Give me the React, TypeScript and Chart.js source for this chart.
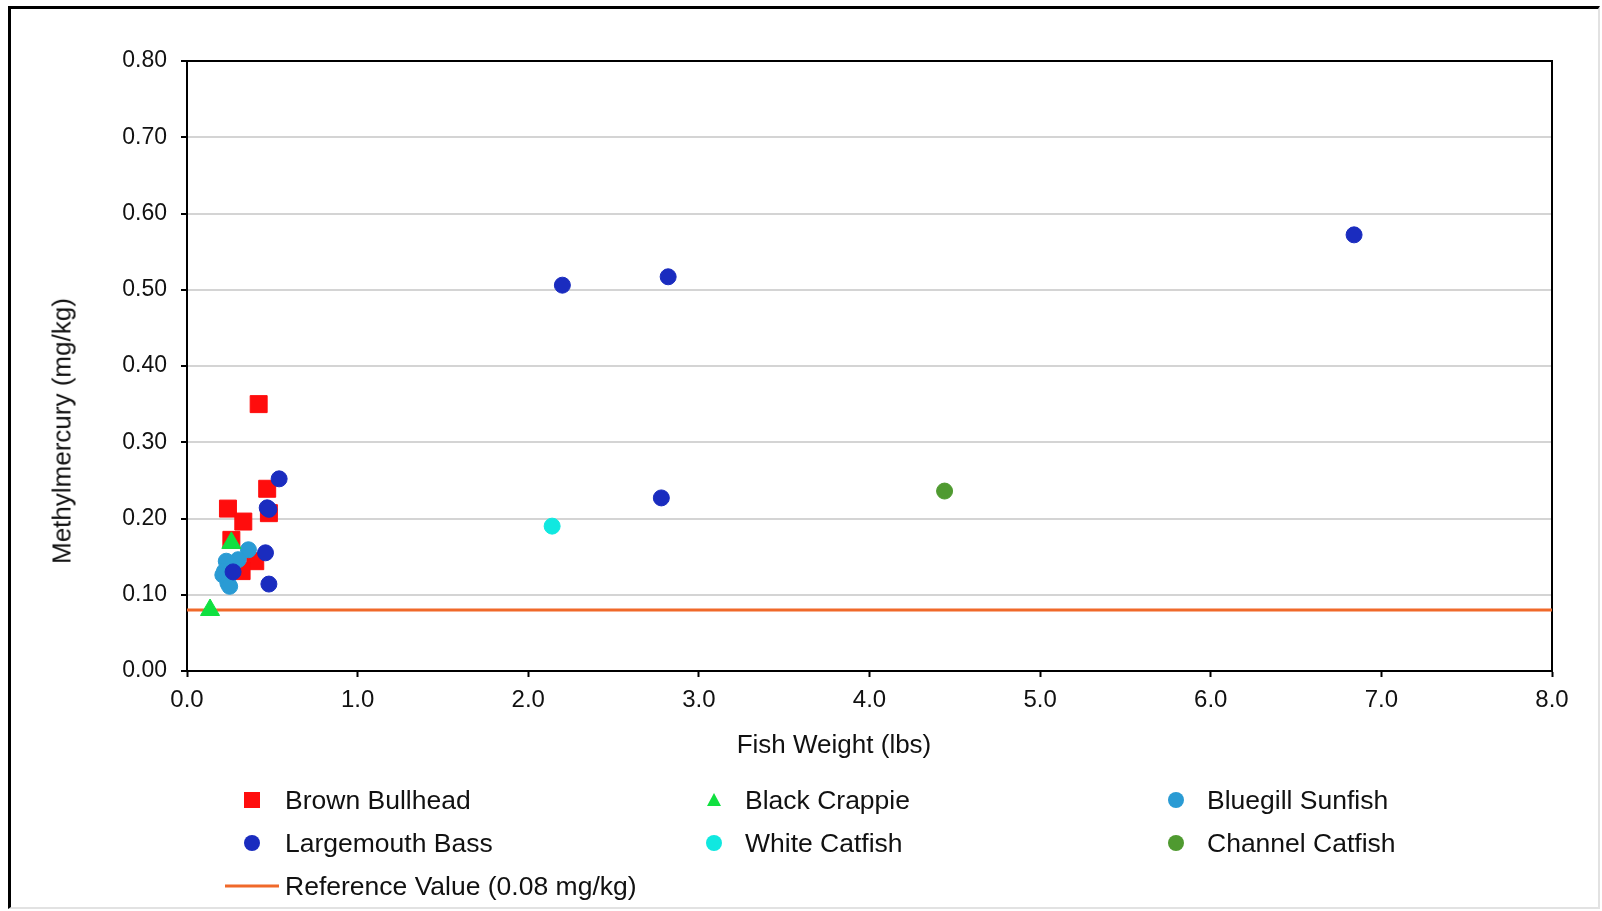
import React, { useEffect, useRef } from "react";
import { Chart, registerables } from "chart.js";

Chart.register(...registerables);

// ---------- data ----------
const brownBullheadX = [0.42, 0.47, 0.24, 0.33, 0.48, 0.26, 0.40, 0.32];
const brownBullheadY = [0.350, 0.239, 0.213, 0.196, 0.207, 0.172, 0.144, 0.131];

const largemouthX = [6.84, 2.20, 2.82, 2.78, 0.54, 0.47, 0.48, 0.46, 0.27, 0.48];
const largemouthY = [0.572, 0.506, 0.517, 0.227, 0.252, 0.214, 0.212, 0.155, 0.130, 0.114];

const blackCrappieX = [0.26, 0.135];
const blackCrappieY = [0.168, 0.080];

const bluegillX = [0.36, 0.23, 0.30, 0.22, 0.21, 0.24, 0.25];
const bluegillY = [0.159, 0.144, 0.146, 0.131, 0.126, 0.115, 0.111];

const whiteCatfishX = [2.14];
const whiteCatfishY = [0.190];

const channelCatfishX = [4.44];
const channelCatfishY = [0.236];

const referenceValue = 0.08;
const referenceX = [0, 8];

const xTicks = [0, 1, 2, 3, 4, 5, 6, 7, 8];
const yTicks = [0, 0.1, 0.2, 0.3, 0.4, 0.5, 0.6, 0.7, 0.8];

const xTitle = "Fish Weight (lbs)";
const yTitle = "Methylmercury (mg/kg)";

const legendNames = [
  "Brown Bullhead",
  "Black Crappie",
  "Bluegill Sunfish",
  "Largemouth Bass",
  "White Catfish",
  "Channel Catfish",
  "Reference Value (0.08 mg/kg)",
];

// ---------- styles ----------
const COLORS = {
  bullhead: "#ff0d0d",
  bass: "#1a2cbf",
  crappie: "#10e040",
  bluegill: "#2a9bd4",
  white: "#10e8e0",
  channel: "#4f9a30",
  ref: "#f0692a",
};

const FONT = "'Liberation Sans', Arial, sans-serif";

const pts = (xs: number[], ys: number[]) => xs.map((x, i) => ({ x, y: ys[i] }));

type LegendItem = { name: string; kind: "rect" | "circle" | "triangle" | "line"; color: string };
const legendItems: LegendItem[] = [
  { name: legendNames[0], kind: "rect", color: COLORS.bullhead },
  { name: legendNames[1], kind: "triangle", color: COLORS.crappie },
  { name: legendNames[2], kind: "circle", color: COLORS.bluegill },
  { name: legendNames[3], kind: "circle", color: COLORS.bass },
  { name: legendNames[4], kind: "circle", color: COLORS.white },
  { name: legendNames[5], kind: "circle", color: COLORS.channel },
  { name: legendNames[6], kind: "line", color: COLORS.ref },
];

const colMarkerX = [252, 714, 1176];
const colTextX = [285, 745, 1207];
const rowY = [800, 843, 886];

function Marker({ item }: { item: LegendItem }) {
  if (item.kind === "line") {
    return (
      <svg width="54" height="10" style={{ display: "block" }}>
        <line x1="0" y1="5" x2="54" y2="5" stroke={item.color} strokeWidth="3" />
      </svg>
    );
  }
  return (
    <svg width="22" height="22" style={{ display: "block" }}>
      {item.kind === "rect" && <rect x="3" y="3" width="16" height="16" fill={item.color} />}
      {item.kind === "circle" && <circle cx="11" cy="11" r="8" fill={item.color} />}
      {item.kind === "triangle" && <polygon points="11,4 18,17 4,17" fill={item.color} />}
    </svg>
  );
}

export default function App() {
  const ref = useRef<HTMLCanvasElement | null>(null);

  useEffect(() => {
    if (!ref.current) return;
    const borderPlugin = {
      id: "plotBorder",
      beforeDatasetsDraw(chart: any) {
        const { ctx, chartArea } = chart;
        ctx.save();
        ctx.strokeStyle = "#000";
        ctx.lineWidth = 2;
        ctx.strokeRect(chartArea.left, chartArea.top, chartArea.right - chartArea.left, chartArea.bottom - chartArea.top);
        ctx.restore();
      },
    };
    const chart = new Chart(ref.current, {
      type: "scatter",
      data: {
        datasets: [
          {
            label: legendNames[3],
            data: pts(largemouthX, largemouthY),
            pointStyle: "circle",
            pointRadius: 8,
            backgroundColor: COLORS.bass,
            borderColor: COLORS.bass,
            borderWidth: 1,
            order: 0,
          },
          {
            label: legendNames[1],
            data: pts(blackCrappieX, blackCrappieY),
            pointStyle: "triangle",
            pointRadius: 11,
            backgroundColor: COLORS.crappie,
            borderColor: COLORS.crappie,
            borderWidth: 1,
            order: 1,
          },
          {
            label: legendNames[2],
            data: pts(bluegillX, bluegillY),
            pointStyle: "circle",
            pointRadius: 8,
            backgroundColor: COLORS.bluegill,
            borderColor: COLORS.bluegill,
            borderWidth: 1,
            order: 2,
          },
          {
            label: legendNames[0],
            data: pts(brownBullheadX, brownBullheadY),
            pointStyle: "rect",
            pointRadius: 12,
            backgroundColor: COLORS.bullhead,
            borderColor: COLORS.bullhead,
            borderWidth: 1,
            order: 3,
          },
          {
            label: legendNames[4],
            data: pts(whiteCatfishX, whiteCatfishY),
            pointStyle: "circle",
            pointRadius: 8,
            backgroundColor: COLORS.white,
            borderColor: COLORS.white,
            borderWidth: 1,
            order: 4,
          },
          {
            label: legendNames[5],
            data: pts(channelCatfishX, channelCatfishY),
            pointStyle: "circle",
            pointRadius: 8,
            backgroundColor: COLORS.channel,
            borderColor: COLORS.channel,
            borderWidth: 1,
            order: 5,
          },
          {
            type: "line",
            label: legendNames[6],
            data: referenceX.map((x) => ({ x, y: referenceValue })),
            borderColor: COLORS.ref,
            borderWidth: 3,
            pointRadius: 0,
            fill: false,
            order: 10,
          } as any,
        ],
      },
      options: {
        responsive: false,
        animation: false,
        devicePixelRatio: 1,
        layout: { padding: { left: 0, top: 61, right: 50, bottom: 0 } },
        plugins: {
          legend: { display: false },
          tooltip: { enabled: false },
          title: { display: false },
        },
        scales: {
          x: {
            type: "linear",
            min: 0,
            max: 8,
            afterBuildTicks: (scale: any) => {
              scale.ticks = xTicks.map((v) => ({ value: v }));
            },
            afterFit: (scale: any) => {
              scale.height = 240;
            },
            ticks: {
              color: "#111",
              font: { family: FONT, size: 24 },
              padding: 9,
              callback: (v: any) => Number(v).toFixed(1),
              maxRotation: 0,
            },
            grid: {
              drawOnChartArea: false,
              drawTicks: true,
              tickLength: 6,
              tickColor: "#000",
              tickWidth: 2,
            },
            border: { color: "#000", width: 2 },
            title: { display: false },
          },
          y: {
            type: "linear",
            min: 0,
            max: 0.8,
            afterBuildTicks: (scale: any) => {
              scale.ticks = yTicks.map((v) => ({ value: v }));
            },
            afterFit: (scale: any) => {
              scale.width = 187;
            },
            ticks: {
              color: "#111",
              font: { family: FONT, size: 23 },
              padding: 14,
              callback: (v: any) => Number(v).toFixed(2),
            },
            grid: {
              color: "#d4d4d4",
              lineWidth: 2,
              drawTicks: true,
              tickLength: 6,
              tickColor: "#000",
              tickWidth: 2,
            },
            border: { color: "#000", width: 2 },
            title: { display: false },
          },
        },
      },
      plugins: [borderPlugin],
    } as any);
    return () => chart.destroy();
  }, []);

  return (
    <div
      style={{
        position: "fixed",
        left: 0,
        top: 0,
        width: 1602,
        height: 911,
        background: "#fff",
        overflow: "hidden",
        fontFamily: FONT,
        color: "#111",
      }}
    >
      <div
        style={{
          position: "absolute",
          left: 8,
          top: 6,
          width: 1587,
          height: 898,
          borderLeft: "3px solid #000",
          borderTop: "3px solid #000",
          borderRight: "2px solid #e2e2e2",
          borderBottom: "2px solid #e2e2e2",
        }}
      />
      <canvas ref={ref} width={1602} height={911} style={{ position: "absolute", left: 0, top: 0 }} />
      <div
        style={{
          position: "absolute",
          left: 834,
          top: 744,
          transform: "translate(-50%, -50%)",
          fontSize: 26,
          whiteSpace: "nowrap",
        }}
      >
        {xTitle}
      </div>
      <div
        style={{
          position: "absolute",
          left: 62,
          top: 431,
          transform: "translate(-50%, -50%) rotate(-90deg)",
          fontSize: 26,
          whiteSpace: "nowrap",
        }}
      >
        {yTitle}
      </div>
      {legendItems.map((item, i) => {
        const col = i % 3;
        const row = Math.floor(i / 3);
        const isLine = item.kind === "line";
        return (
          <React.Fragment key={item.name}>
            <div
              style={{
                position: "absolute",
                left: isLine ? 225 : colMarkerX[col] - 11,
                top: rowY[row] - (isLine ? 5 : 11),
              }}
            >
              <Marker item={item} />
            </div>
            <div
              style={{
                position: "absolute",
                left: colTextX[col],
                top: rowY[row],
                transform: "translateY(-50%)",
                fontSize: 26.5,
                whiteSpace: "nowrap",
                lineHeight: "30px",
              }}
            >
              {item.name}
            </div>
          </React.Fragment>
        );
      })}
    </div>
  );
}
